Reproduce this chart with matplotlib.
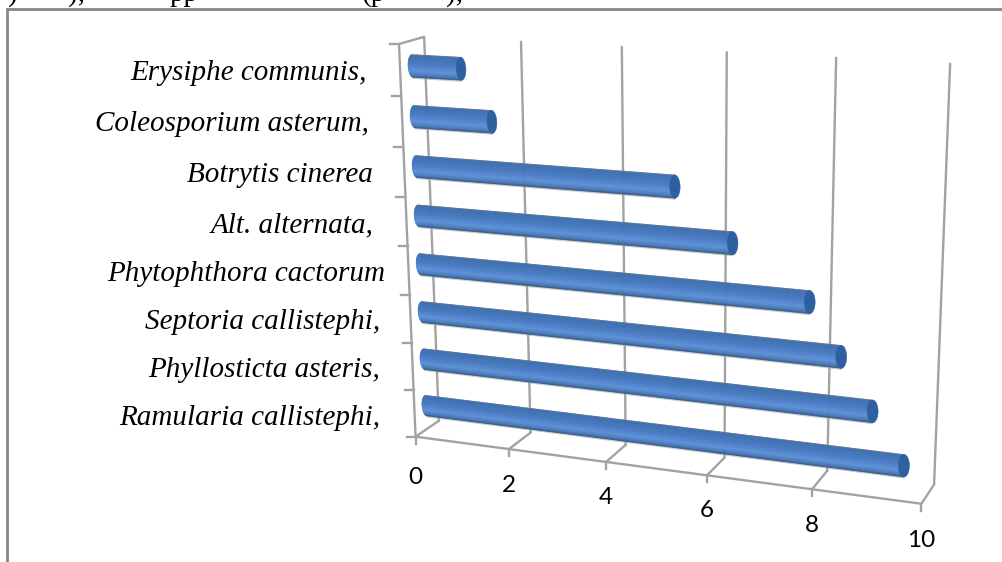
import numpy as np
import matplotlib
matplotlib.use('Agg')
import matplotlib.pyplot as plt
from matplotlib.colors import LinearSegmentedColormap

# Horizontal cylinder chart, bottom category first
categories = ['Ramularia callistephi,', 'Phyllosticta asteris,', 'Septoria callistephi,',
              'Phytophthora cactorum', 'Alt. alternata,', 'Botrytis cinerea',
              'Coleosporium asterum,', 'Erysiphe communis,']
values = [9.55, 8.95, 8.35, 7.75, 6.3, 5.2, 1.6, 1.0]
value_ticks = [0, 2, 4, 6, 8, 10]

# category label layout (right edge and baseline in pixels)
label_right = [380, 380, 380, 385, 373, 373, 369, 367]
label_base = [425, 377, 329, 281, 232, 182, 131, 80]
tick_label_dy = [41, 36, 36, 35, 36, 37]

# box corners used to fit the camera: (value, category, depth) -> pixel
box_world = [(0, 0, 0), (2, 0, 0), (4, 0, 0), (6, 0, 0), (8, 0, 0), (10, 0, 0), (0, 8, 0),
             (0, 0, 1), (2, 0, 1), (4, 0, 1), (6, 0, 1), (8, 0, 1), (10, 0, 1),
             (0, 8, 1), (2, 8, 1), (4, 8, 1), (6, 8, 1), (8, 8, 1), (10, 8, 1)]
box_pixel = [(416, 437), (509, 449), (607, 462), (707, 475), (812, 489), (921, 504), (398, 44),
             (438, 421), (530, 432), (626, 445), (725, 457), (827, 470), (934, 486),
             (425, 37), (521, 42), (622, 47), (727, 52), (836, 58), (950, 63)]


def fit_camera(world, pixel):
    rows = []
    for (x, y, z), (u, v) in zip(world, pixel):
        rows.append([x, y, z, 1, 0, 0, 0, 0, -u*x, -u*y, -u*z, -u])
        rows.append([0, 0, 0, 0, x, y, z, 1, -v*x, -v*y, -v*z, -v])
    return np.linalg.svd(np.array(rows, float))[2][-1].reshape(3, 4)


P = fit_camera(box_world, box_pixel)


def project(v, c, d):
    v, c, d = np.broadcast_arrays(v, c, d)
    w = P @ np.vstack([v.ravel(), c.ravel(), d.ravel(), np.ones(v.size)])
    return w[0]/w[2], w[1]/w[2]


fig = plt.figure(figsize=(10.03, 5.62), dpi=100)
ax = fig.add_axes([0, 0, 1, 1])
ax.set_xlim(0, 1003)
ax.set_ylim(562, 0)
ax.axis('off')

GRID = '#a2a2a2'
LW = 1.7


def seg(a, b):
    x, y = project(*np.array([a, b]).T)
    ax.plot(x, y, color=GRID, lw=LW, solid_capstyle='round', zorder=2)


# chart frame, open on the right and at the bottom
ax.plot([7, 7, 1003], [562, 9, 9], color='#868686', lw=2, solid_joinstyle='miter', zorder=1)

# walls and floor
for v in value_ticks:
    seg((v, 0, 1), (v, 8, 1))
    seg((v, 0, 0), (v, 0, 1))
    x, y = project(v, 0, 0)
    ax.plot([x[0], x[0]], [y[0], y[0]+7], color=GRID, lw=LW, zorder=2)
    ax.text(x[0], y[0]+tick_label_dy[value_ticks.index(v)], str(v), family='Lato', fontsize=17.5,
            ha='center', va='center', color='black')
seg((0, 0, 0), (10, 0, 0))
seg((0, 0, 0), (0, 8, 0))
seg((0, 8, 0), (0, 8, 1))
for c in range(9):
    x, y = project(0, c, 0)
    ax.plot([x[0]-9, x[0]], [y[0], y[0]], color=GRID, lw=LW, zorder=2)

# cylinder shading across the bar, top to bottom
shade = LinearSegmentedColormap.from_list('cyl', [(0, '#5f7896'), (0.06, '#3c6eb0'), (0.4, '#4679bf'),
                                                 (0.72, '#5c90d8'), (0.9, '#4878b6'), (1, '#34557f')])
half = 0.225
cap = 0.1
ts = np.linspace(-1, 1, 41)

for i, val in enumerate(values):
    c = i + 0.5
    # faint shadow along the lower edge
    x0, y0 = project([0, val], [c - half*1.06]*2, 0.5)
    ax.plot(x0, y0, color='#a8a8a8', lw=1.0, alpha=0.6, zorder=3)
    for t0, t1 in zip(ts[:-1], ts[1:]):
        tm = (t0 + t1)/2
        start = -cap*np.sqrt(1 - tm**2)
        xs, ys = project([start, val, val, start], [c - t1*half, c - t1*half, c - t0*half, c - t0*half], 0.5)
        ax.fill(xs, ys, color=shade((t0 + 1)/2), lw=0.3, zorder=4)
    # darker end cap
    a = np.linspace(0, 2*np.pi, 60)
    xs, ys = project(val + cap*np.cos(a), c + half*np.sin(a), 0.5)
    ax.fill(xs, ys, color='#2e5f9e', lw=0.3, zorder=5)
    ax.text(label_right[i], label_base[i], categories[i], family='Liberation Serif', style='italic',
            fontsize=21, ha='right', va='baseline', color='black')

# descenders of the line of body text above the chart
for x, s in [(8, ')'), (68, '),'), (170, 'pp'), (362, '(p'), (446, '),')]:
    ax.text(x, 1, s, family='Liberation Serif', fontsize=21, ha='left', va='baseline', color='black')

plt.savefig('out.png', dpi=100)
